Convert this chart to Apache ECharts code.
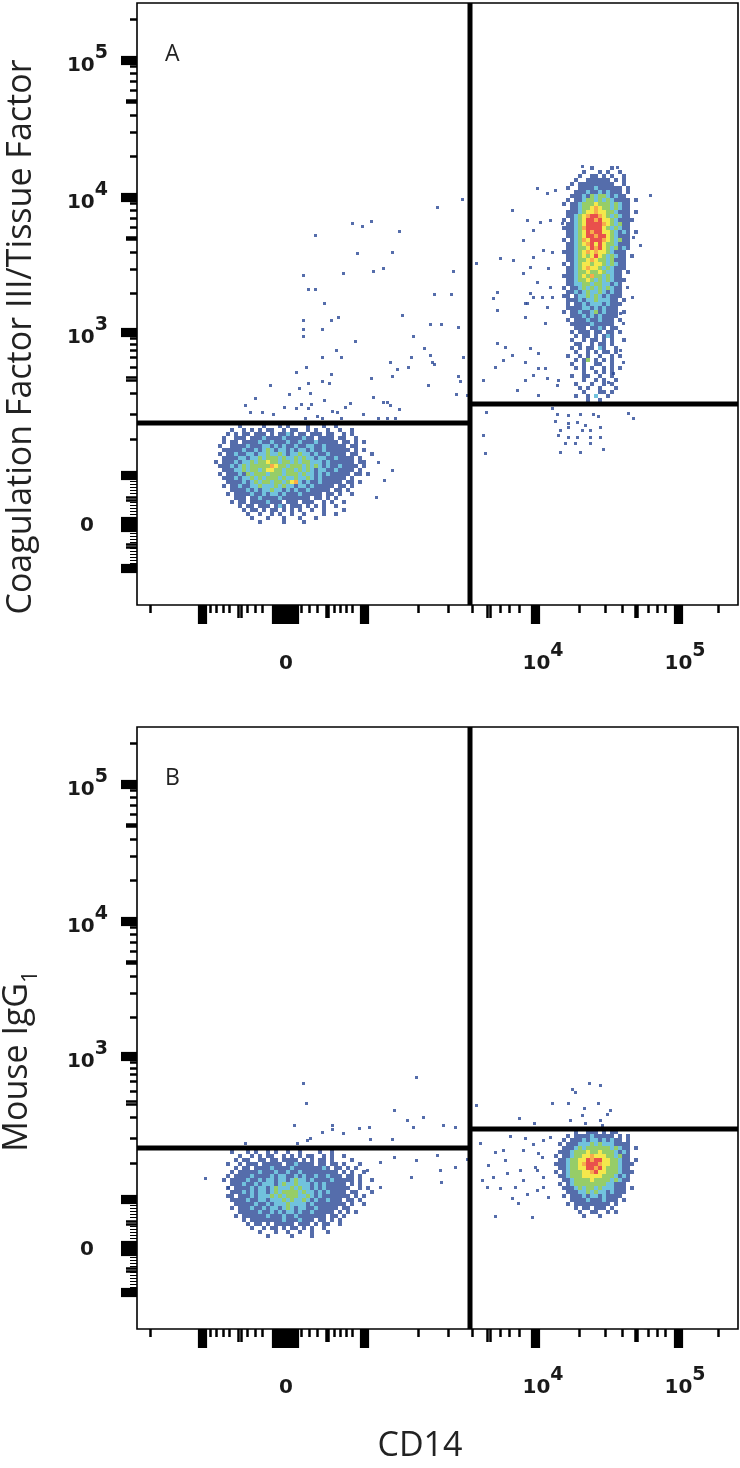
<!DOCTYPE html>
<html><head><meta charset="utf-8">
<script src="https://cdn.jsdelivr.net/npm/echarts@6.0.0/dist/echarts.min.js"></script>
<style>html,body{margin:0;padding:0;background:#fff}#c{width:740px;height:1468px}</style>
</head><body><div id="c"></div>
<script>
// ---------- data (display channel units) ----------
const CHANNEL_MAX_X = 601;
const CHANNEL_MAX_Y = 602;
const panelLetters = ['A', 'B'];
const yTitles = ['Coagulation Factor III/Tissue Factor', 'Mouse IgG|1'];
const xTitle = 'CD14';

const xLabelValues = [149, 406, 548];
const xLabelBase = ['0', '10', '10'];
const xLabelExp = ['', '4', '5'];
const yLabelValues = [80, 268, 403, 540];
const yLabelBase = ['0', '10', '10', '10'];
const yLabelExp = ['', '3', '4', '5'];

const xTickShort = [13,73,79,86,92,110,118,125,164,172,180,197,203,209,215,281,311,335,363,372,382,442,468,485,511,520,528,581];
const xTickMedium = [101,104,189,191,350,353,498,500];
const xTickLong = [62,65,68,136,139,142,145,148,151,154,157,160,224,227,230,395,398,401,538,541,544];

const yTickShort = [586,539,532,524,515,490,473,449,402,395,387,378,353,336,312,267,261,255,248,238,212,191,166];
const yTickThin = [124,121,118,115,112,103,100,97,94,91,72,69,66,63,57,54,51,48,45,42];
const yTickMedium = [503,505,366,368,228,225,108,105,61,58];
const yTickLong = [548,545,542,411,408,405,276,273,270,133,130,127,87,84,81,78,75,40,37,34];

// gates: vertical x, left horizontal y, right horizontal y (per panel)
const gateX = [333, 333];
const gateLeftY = [182, 181];
const gateRightY = [201, 200];

// density maps: 4-channel cells, '.' empty, b c g y o r = increasing density
const aLowOrigin = [79, 179];
const aLowMap = [
"......b.....b...b.b....b...b..b.........",
"....b..b.b.b.bb..b.bb..b.b..b..b..b.....",
"...b.b.bb.bbb.b.bbcb.bb.bbb.bb..b.b.....",
"..b..bbb.bbbcbbbbcbbbbcbb.bbbb.bb..b....",
"..b.bb.bbbbcbbcbbbcbbcbbbcbbbbb.bb.b.b..",
".b..bbbbcbbbccbcbcbbcbbccbbcbbbbb.bb....",
"..bbbbbcbbcbcgcbccbcbccbcbbcbbbbbb.b.b..",
".b.bbcbbccbccgccgcbccgccbcbbcbbbb.bb...b",
"..bbbbccbccgcgggcgccgcgccbccbbcbbbb.b...",
"b.bbbcbccgcggyggcggcgcggcccbcbbbbbb.bb..",
".bbbcbcgcgggggoyggcgggcgcgcbcbbcbbbb.b..",
"..bbbccgcggcgyyggcggcgcgcbccbbcbbbb.b...",
".b.bbbcbgcgggcgggcgggcgccbcbcbbbbb.bb.b.",
"..bbbcbccgcgcgggcgccgccgcbcbbbbbb.b.....",
"...bbbbcbcgcggcggcgyocbcbbcbbbbb.bb.b...",
"..b.bbcbbccgcccgcgccbccbcbbbbb.bb.b.....",
"....bbbbcbcbccgccbcbcbbcbbbbb.bb.b......",
"...b.bbbbcbbcbccbcbbbcbbbbb.bb.b..b.....",
".....bbb.bbcbbbbcbbbbbbb.bb.b.b.........",
"....b.bb.bbbbcbbb.bbb.bbb..b.b..b.......",
"......b.bb.bbb.bcb.bbb.b.b.b..b.........",
".......b.bb.b.bb.b.b.b..b..b....b.......",
"........b..b..b.b..b..b....b..b.........",
".........b...b...b...b...b..............",
"...........b.....b....b................."
];
const aHighOrigin = [415, 437];
const aHighMap = [
"..........b....b......",
"........b...b.b..b....",
".......b..bb.b.b..b...",
"......b..bbbbbb.b.b...",
".....b.bbbbbbbbb..b...",
"....b..bbbbcbbbbbb.b..",
"......bbbcbbcbcbbb.b..",
".....bbbcbgcggcbcbb...",
"....b.bbcggcgcgcbbbb.b",
"...b.bbcgggygggcgcbb..",
".....bbcggyoyggcgcbb..",
"....bbbcgyyoyyggcbbb.b",
"....bbcgyorroygcgcbb..",
"...b.bcgyrroryygcbbbb.",
"....bbcgyrrrroygcgbb..",
"...bbbcgorrrrygcgcbb..",
"....bbcgyrorryygcbcb.b",
"....bbcgyrrorrygcbbb..",
"...b.bcgoyrrroygcgbb..",
"....bbcgyoryryggcbbb..",
"....bbcggyrorygcgbcb..",
"...bbbcgyoyoyygcbbb...",
"....bbcgygyrygcgcbb.b.",
"....bbcggyoyggcgbbb...",
"...b.bcgyygyygcgcbb...",
"....bbcgyoyygcgcbbb...",
"....bbcggyggygccbb.b..",
"...bbbcgygoggcgcbb....",
"....bbcggygcgcgcbbb...",
"....bbccggcggccbcb....",
"...b.bbcgcgcgcgcbb....",
"....bbcbcgccgcbcbb....",
"...bb.bccgcgcbcbbb....",
"....bbbcbccgcccbb.b...",
"....b.bbcbcccbcbbb....",
"....bbbbccbcbcbbb.....",
"...b.bbcbbcgbcbbb.b...",
".....bbbcbcbcbbbb.....",
"....b.bbbcbbcbbb.b....",
".....bbbbbcbbbbb......",
"......bbb.bbcb.bb.....",
".....b.bbb.bb.bb.b....",
"......b.bb.b.bcb......",
".....b..b.bb.b.b..b...",
"......bb..b.bb.b......",
".....b.b.bb.cb..b.....",
"......b..b.b.bb.b.....",
"....b..b.b..b..b.b....",
"......b.bg.b.b.b......",
".....b..b..bb..b......",
"......b.b.b..b.b.b....",
"........b..b.b.b......",
".....b..bb..b..b......",
"........b..b.b..b.....",
"......b...b..b.b......",
".......b.b..b...b.....",
"........b...bb.b......",
"......b..b.c..b.......",
".........b..b........."
];
const bLowOrigin = [87, 177];
const bLowMap = [
"..b...b.b..b.b..b..b....b..b...........",
"....b..b.b.bb..b.b.b.bb..b.b..b........",
"...b.bb..bb.bb.bbbb.b.b.bb.b....b......",
".b..b.bbb.bbbbb.bbcbbbb.bb.bb.b...b....",
"...b.bb.bbbbcbbbbcbbbbbbbcb.bb.b.b.....",
"..b.bbbbbcbbbcbbcbbcbbbbbbbbb.b.b..b...",
".b.bbbbcbbbbcbccbbcbcbbcbbcbbb.bb.b....",
"b.bbbbcbbcbccbccbcgccbcbbbbcbbbbb.b..b.",
"..bbbcbbcbcccbcgccgcccbcbcbbbbb.b.b....",
".b.bbbbcbccbcgcccgcgccbcbcbbbbbb..b.b..",
"..bbbcbcbccbcgcggggcgccbcbcbbbb.bb...b.",
".bb.bbbcbcccgcgcgggccgcbcbbbbbbb.b.b...",
"..bbbbcbbccbcccgcgccgcbcbbcbbb.bb.b....",
"...bbbbbcbbcbcccgccccbcbbbbbbbb.b..b...",
"..b.bbbcbbcbccbcgcbccbbcbbbbb.bb.......",
"....bbbbbcbbcbcbccbcbbcbbbbb.b.b.b.....",
"...b.bbbbbbcbbbcbbcbbbbbbb.bb.b........",
".....b.bbbbbbbbcbbbcbbb.bb.b.b.........",
"......b.bb.b.bbbbb.bbb.b.bb..b.........",
".......b..b.bb.b.bb.b.b..b............",
".........b...b..b..b..b...b............",
"...........b.....b....b................"
];
const bHighOrigin = [415, 197];
const bHighMap = [
"......b..bbb.b.bb.....",
"....b.bbbbcbbbbb.b.b..",
"...b.bbbcbccbcbcbb.b..",
"..b.bbbcccgcgcccbbbb..",
"...bbbcgcggggggcgcbb.b",
"..bbbcgggyggygggcbcb..",
".b.bbcggyyoyyyggcgbb..",
"..bbcggyyrorryyggcbb.b",
".bbbcggyorrroyyggcbbb.",
"..bbcggyyrrorygggcbb..",
".b.bcgggyyoryygggcbbb.",
"..bbcgggyyyyygggcbcb..",
"...bbcggggyggggcgcbb..",
"..b.bcggggggggccbbb...",
"...bbbcgcggcgcccbbb.b.",
"....bbbccgcgccbcbbb...",
"...b.bbbcbccbcbbbb....",
".....bbbbcbbbcbbb.b...",
"....b.bbbbbbbbb.b.....",
"......b.bb.bbb.b......",
".......b..bb..b.b.....",
"........b...b........."
];

// sparse events outside the density maps (blue)
const aSparse = [
[445,439],[480,438],[400,417],[410,412],[418,415],[375,395],[390,385],[403,383],[413,385],[425,382],
[386,365],[396,375],[406,355],[415,353],[396,348],[376,345],[363,347],[393,338],[411,337],[386,332],
[400,323],[413,318],[393,312],[415,308],[388,302],[513,410],[496,368],[503,360],[490,318],[495,308],
[360,313],[356,307],[396,308],[405,308],[390,302],[410,298],[360,295],[388,288],[408,282],[483,292],
[486,282],[360,262],[368,258],[393,257],[401,252],[375,250],[366,245],[388,243],[358,238],[401,237],
[408,237],[483,255],[486,243],[396,230],[410,227],[346,225],[388,225],[421,225],[420,220],[380,215],
[401,210],[476,232],[471,223],[349,193],[415,197],[496,187],[491,192],[346,170],[421,170],[348,152],
[423,153],[443,153],[466,156],
[420,191],[431,190],[443,191],[456,191],[461,189],[418,184],[431,182],[440,183],[448,180],[463,178],
[431,178],[423,175],[445,175],[453,175],[463,168],[431,168],[440,168],[453,168],[428,162],[438,162],[453,162],
[325,406],[300,398],[215,382],[225,379],[234,384],[178,370],[262,374],[220,352],[255,353],[206,332],
[236,334],[246,337],[316,334],[339,342],[166,330],[171,316],[178,316],[187,302],[297,311],[314,311],
[265,290],[201,288],[194,285],[166,285],[293,281],[304,281],[321,278],[166,276],[185,276],[166,269],
[276,269],[218,264],[287,257],[199,255],[293,250],[185,248],[204,248],[274,248],[326,248],[295,243],
[297,241],[253,243],[271,238],[169,238],[159,233],[194,231],[260,236],[255,229],[321,229],[234,227],
[185,224],[192,222],[171,222],[323,224],[291,220],[162,217],[173,212],[319,211],[152,211],[187,205],
[236,208],[246,203],[250,203],[253,200],[174,201],[164,201],[147,198],[159,197],[213,202],[208,198],
[195,194],[200,193],[171,197],[262,196],[226,191],[168,187],[180,189],[185,187],[204,187],[241,187],
[250,187],[258,187],[330,210],[118,207],[125,193],[108,200],[133,220],[113,193],[136,191],
[241,143],[247,125],[239,108],[255,135]
];
const bSparse = [
[166,246],[279,252],[169,226],[257,219],[270,209],[286,212],[157,204],[195,204],[195,200],[222,201],
[232,202],[185,197],[206,196],[276,202],[306,204],[318,202],[108,186],[160,186],[170,189],[173,191],
[233,190],[255,190],[257,172],[279,169],[300,174],[303,159],[318,162],[330,170],[274,152],[304,147],
[243,167],[230,159],[243,142],[68,151],[91,142],
[452,246],[463,244],[435,240],[438,237],[415,226],[431,226],[461,226],[447,221],[473,219],[470,215],
[445,214],[433,209],[448,206],[463,209],[465,204],[397,206],[382,211],[339,224],
[343,186],[373,193],[388,191],[396,185],[406,189],[413,192],[358,177],[366,179],[386,179],[401,176],
[405,172],[368,169],[351,164],[356,152],[370,156],[383,159],[398,162],[400,159],[386,149],[406,152],
[345,149],[350,142],[363,141],[378,142],[390,135],[400,139],[406,142],[375,131],[381,126],[411,132],
[358,113],[395,112]
];

// ---------- build ----------
const LEVELS = 'bcgyor';
const LEVEL_COLORS = ['#2a4896', '#4db3d5', '#7cc142', '#f1e21f', '#f5961e', '#e3241f'];
const CELL = 4;
function mapPoints(rows, origin) {
  const pts = [];
  rows.forEach((row, r) => {
    for (let c = 0; c < row.length; c++) {
      const k = LEVELS.indexOf(row[c]);
      if (k >= 0) pts.push([origin[0] + c * CELL, origin[1] - r * CELL, k]);
    }
  });
  return pts;
}
const panelSparse = [aSparse, bSparse].map(list => list.map(p => [p[0], p[1], 0]));
const panelCells = [
  mapPoints(aLowMap, aLowOrigin).concat(mapPoints(aHighMap, aHighOrigin)),
  mapPoints(bLowMap, bLowOrigin).concat(mapPoints(bHighMap, bHighOrigin))
];

const LABEL_FONT = 'DejaVu Sans';
const richBase = { fontFamily: LABEL_FONT, fontWeight: 'bold', fontSize: 20, color: '#1a1a1a', verticalAlign: 'bottom', lineHeight: 22 };
const labelRich = {
  b: Object.assign({}, richBase),
  s: Object.assign({}, richBase, { fontSize: 19, padding: [0, 0, 13, 0] }),
  xz: Object.assign({}, richBase, { padding: [13, 0, 0, 0] }),
  yz: Object.assign({}, richBase, { padding: [0, 14, 0, 0] })
};
function fmt(values, bases, exps, zeroStyle) {
  return function (value) {
    let i = 0, best = Infinity;
    values.forEach((v, j) => { const d = Math.abs(v - value); if (d < best) { best = d; i = j; } });
    if (!exps[i]) return '{' + zeroStyle + '|' + bases[i] + '}';
    return '{b|' + bases[i] + '}{s|' + exps[i] + '}';
  };
}
function tickAxis(dim, gridIndex, ticks, len, width, extra) {
  const ax = {
    type: 'value', gridIndex: gridIndex, min: 0, max: dim === 'x' ? CHANNEL_MAX_X : CHANNEL_MAX_Y,
    position: dim === 'x' ? 'bottom' : 'left', offset: 0,
    axisLine: { show: false, onZero: false },
    splitLine: { show: false },
    axisTick: { show: true, customValues: ticks, length: len, lineStyle: { color: '#000', width: width } },
    axisLabel: { show: false }
  };
  return Object.assign(ax, extra || {});
}
const xAxes = [], yAxes = [];
const grids = [];
const TITLE_SIZE = 34;
[0, 1].forEach(g => {
  grids.push({ left: 137, top: g === 0 ? 3 : 727, width: 601, height: 602, show: true, borderColor: '#000', borderWidth: 1.6, backgroundColor: 'transparent', outerBoundsMode: 'none', containLabel: false });
  const xLab = {
    axisLabel: { show: true, customValues: xLabelValues, margin: 47, formatter: fmt(xLabelValues, xLabelBase, xLabelExp, 'xz'), rich: labelRich }
  };
  if (g === 1) {
    Object.assign(xLab, { name: xTitle, nameLocation: 'middle', nameGap: 100,
      nameTextStyle: { fontFamily: 'Open Sans', fontSize: TITLE_SIZE, color: '#222', padding: [0, 35, 0, 0] } });
  }
  xAxes.push(tickAxis('x', g, xTickShort, 8, 2.5, xLab));
  xAxes.push(tickAxis('x', g, xTickMedium, 13, 2.5));
  xAxes.push(tickAxis('x', g, xTickLong, 19, 3.2));
  const yName = yTitles[g].split('|');
  const yLab = {
    axisLabel: { show: true, customValues: yLabelValues, margin: 29, formatter: fmt(yLabelValues, yLabelBase, yLabelExp, 'yz'), rich: labelRich },
    name: yName.length > 1 ? '{a|' + yName[0] + '}{s|' + yName[1] + '}' : yName[0],
    nameLocation: 'middle', nameRotate: 90, nameGap: g === 0 ? 99 : 95,
    nameTextStyle: {
      fontFamily: 'Open Sans', fontSize: TITLE_SIZE, color: '#222', padding: [0, 66, 0, 0],
      rich: {
        a: { fontFamily: 'Open Sans', fontSize: TITLE_SIZE, color: '#222', verticalAlign: 'bottom', padding: [0, 0, 8, 0] },
        s: { fontFamily: 'Open Sans', fontSize: 22, color: '#222', verticalAlign: 'bottom' }
      }
    }
  };
  yAxes.push(tickAxis('y', g, yTickShort, 7, 2.5, yLab));
  yAxes.push(tickAxis('y', g, yTickThin, 7, 1));
  yAxes.push(tickAxis('y', g, yTickMedium, 11, 2.5));
  yAxes.push(tickAxis('y', g, yTickLong, 16, 3.2));
});

const series = [];
[0, 1].forEach(g => {
  const xi = g * 3, yi = g * 4;
  const colorFn = p => LEVEL_COLORS[p.data[2]];
  series.push({
    type: 'scatter', xAxisIndex: xi, yAxisIndex: yi, symbol: 'rect', symbolSize: 3, symbolOffset: [0.5, 0.5],
    data: panelSparse[g], silent: true, z: 2, itemStyle: { color: colorFn }
  });
  series.push({
    type: 'scatter', xAxisIndex: xi, yAxisIndex: yi, symbol: 'rect', symbolSize: 4,
    data: panelCells[g], silent: true, z: 3, itemStyle: { color: colorFn }
  });
  const gate = (data) => ({
    type: 'line', xAxisIndex: xi, yAxisIndex: yi, data: data, symbol: 'none', silent: true, z: 5,
    lineStyle: { color: '#000', width: 5, cap: 'butt' }
  });
  series.push(gate([[gateX[g], 0], [gateX[g], CHANNEL_MAX_Y]]));
  series.push(gate([[0, gateLeftY[g]], [gateX[g], gateLeftY[g]]]));
  series.push(gate([[gateX[g], gateRightY[g]], [CHANNEL_MAX_X, gateRightY[g]]]));
});

const chart = echarts.init(document.getElementById('c'), null, { renderer: 'canvas' });
chart.setOption({
  animation: false,
  backgroundColor: '#fff',
  title: panelLetters.map((t, g) => ({
    text: t, left: 160, top: g === 0 ? 38 : 762,
    textStyle: { fontFamily: 'Open Sans', fontSize: 23, fontWeight: 'normal', color: '#222' }
  })),
  grid: grids,
  xAxis: xAxes,
  yAxis: yAxes,
  series: series
});
</script></body></html>
